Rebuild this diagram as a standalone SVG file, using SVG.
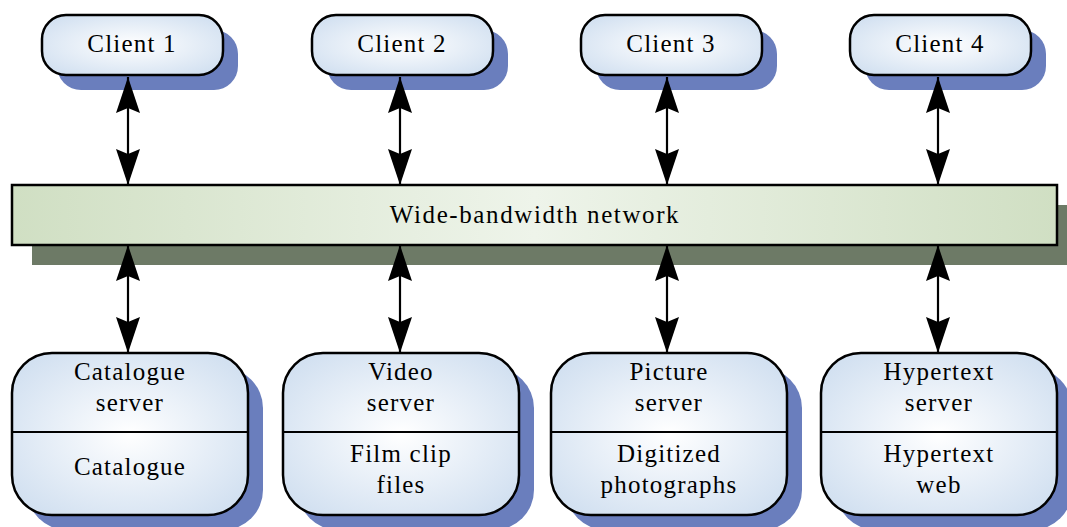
<svg xmlns="http://www.w3.org/2000/svg" width="1067" height="527" viewBox="0 0 1067 527">
<style>
.t{font-family:"Liberation Serif","Times New Roman",serif;font-size:25px;fill:#000;text-anchor:middle;letter-spacing:1.2px}
.node{fill:url(#blue);stroke:#000;stroke-width:2.5}
.sh{fill:#6a7ebd}
.bsh{fill:#6d7a66}
.div{stroke:#000;stroke-width:2}
.conn{stroke:#000;stroke-width:2.2;fill:none;marker-start:url(#ah);marker-end:url(#ah)}
</style>
<defs>
<radialGradient id="blue" cx="50%" cy="50%" r="60%">
<stop offset="0" stop-color="#ffffff"/>
<stop offset="1" stop-color="#d3e1f1"/>
</radialGradient>
<linearGradient id="green" x1="0" y1="0" x2="1" y2="0">
<stop offset="0" stop-color="#d0dfc3"/>
<stop offset="0.5" stop-color="#eef4ea"/>
<stop offset="1" stop-color="#d0dfc3"/>
</linearGradient>
<marker id="ah" viewBox="0 -13 36 26" refX="36" refY="0" markerWidth="36" markerHeight="26" markerUnits="userSpaceOnUse" orient="auto-start-reverse">
<path d="M0,-12 L36,0 L0,12 L5,0 Z" fill="#000"/>
</marker>
</defs>

<g id="network">
<rect class="bsh" x="32" y="205" width="1045" height="60"/>
<rect x="12" y="185" width="1045" height="60" fill="url(#green)" stroke="#000" stroke-width="2.5"/>
<text class="t" x="535" y="223" style="letter-spacing:1.6px">Wide-bandwidth network</text>
</g>

<g id="client1">
<rect class="sh" x="57" y="30" width="181" height="60" rx="24"/>
<rect class="node" x="42" y="15" width="181" height="60" rx="24"/>
<text class="t" x="132" y="52">Client 1</text>
</g>
<g id="client2">
<rect class="sh" x="327" y="30" width="181" height="60" rx="24"/>
<rect class="node" x="312" y="15" width="181" height="60" rx="24"/>
<text class="t" x="402" y="52">Client 2</text>
</g>
<g id="client3">
<rect class="sh" x="596" y="30" width="181" height="60" rx="24"/>
<rect class="node" x="581" y="15" width="181" height="60" rx="24"/>
<text class="t" x="671" y="52">Client 3</text>
</g>
<g id="client4">
<rect class="sh" x="865" y="30" width="181" height="60" rx="24"/>
<rect class="node" x="850" y="15" width="181" height="60" rx="24"/>
<text class="t" x="940" y="52">Client 4</text>
</g>

<g id="catalogue-server">
<rect class="sh" x="27" y="368" width="236" height="162" rx="40"/>
<rect class="node" x="12" y="353" width="236" height="162" rx="40"/>
<line class="div" x1="12" y1="432" x2="248" y2="432"/>
<text class="t" x="130" y="380">Catalogue</text>
<text class="t" x="130" y="411">server</text>
<text class="t" x="130" y="475">Catalogue</text>
</g>
<g id="video-server">
<rect class="sh" x="298" y="368" width="236" height="162" rx="40"/>
<rect class="node" x="283" y="353" width="236" height="162" rx="40"/>
<line class="div" x1="283" y1="432" x2="519" y2="432"/>
<text class="t" x="401" y="380">Video</text>
<text class="t" x="401" y="411">server</text>
<text class="t" x="401" y="462">Film clip</text>
<text class="t" x="401" y="493">files</text>
</g>
<g id="picture-server">
<rect class="sh" x="566" y="368" width="236" height="162" rx="40"/>
<rect class="node" x="551" y="353" width="236" height="162" rx="40"/>
<line class="div" x1="551" y1="432" x2="787" y2="432"/>
<text class="t" x="669" y="380">Picture</text>
<text class="t" x="669" y="411">server</text>
<text class="t" x="669" y="462">Digitized</text>
<text class="t" x="669" y="493">photographs</text>
</g>
<g id="hypertext-server">
<rect class="sh" x="836" y="368" width="236" height="162" rx="40"/>
<rect class="node" x="821" y="353" width="236" height="162" rx="40"/>
<line class="div" x1="821" y1="432" x2="1057" y2="432"/>
<text class="t" x="939" y="380">Hypertext</text>
<text class="t" x="939" y="411">server</text>
<text class="t" x="939" y="462">Hypertext</text>
<text class="t" x="939" y="493">web</text>
</g>

<g id="connectors">
<line class="conn" x1="128" y1="77" x2="128" y2="185"/>
<line class="conn" x1="400" y1="77" x2="400" y2="185"/>
<line class="conn" x1="667" y1="77" x2="667" y2="185"/>
<line class="conn" x1="938" y1="77" x2="938" y2="185"/>
<line class="conn" x1="128" y1="245" x2="128" y2="353"/>
<line class="conn" x1="400" y1="245" x2="400" y2="353"/>
<line class="conn" x1="667" y1="245" x2="667" y2="353"/>
<line class="conn" x1="938" y1="245" x2="938" y2="353"/>
</g>
</svg>
